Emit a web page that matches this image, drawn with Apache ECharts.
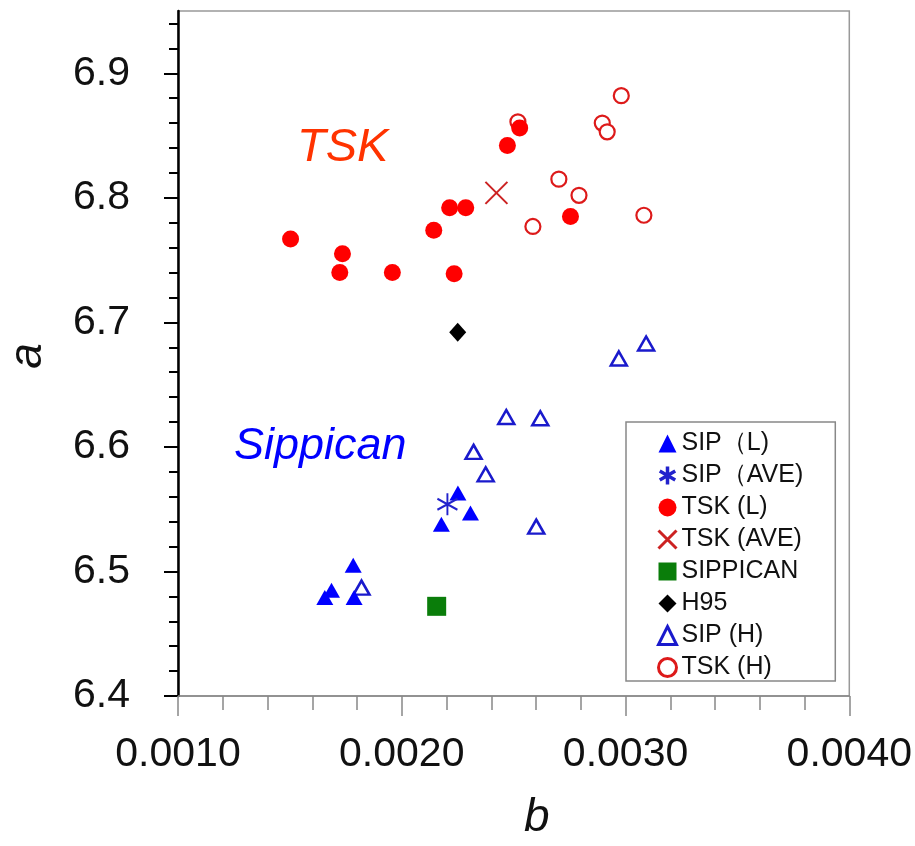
<!DOCTYPE html>
<html>
<head>
<meta charset="utf-8">
<script src="https://cdn.jsdelivr.net/npm/echarts@6/dist/echarts.min.js"></script>
<style>html,body{margin:0;padding:0;background:#fff;}#c{width:915px;height:846px;}</style>
</head>
<body>
<div id="c"></div>
<script>
// ---- data: [b, a] ----
const sipL = [[0.002251,6.563],[0.002307,6.547],[0.002177,6.538],[0.001783,6.505],[0.001686,6.485],[0.001656,6.479],[0.001787,6.479]];
const sipAve = [[0.002204,6.554]];
const tskL = [[0.001503,6.767],[0.001735,6.755],[0.001723,6.740],[0.001958,6.740],[0.002234,6.739],[0.002143,6.774],[0.002214,6.792],[0.002286,6.792],[0.002472,6.842],[0.002527,6.856],[0.002754,6.785]];
const tskAve = [[0.002423,6.804]];
const sippican = [[0.002156,6.472]];
const h95 = [[0.00225,6.692]];
const sipH = [[0.003092,6.683],[0.00297,6.671],[0.002467,6.624],[0.002619,6.623],[0.002375,6.578],[0.002601,6.536],[0.002321,6.596],[0.00182,6.487]];
const tskH = [[0.002519,6.861],[0.002981,6.882],[0.002896,6.860],[0.002918,6.853],[0.002702,6.815],[0.002792,6.802],[0.002586,6.777],[0.003082,6.786]];
const names = ['SIP（L)','SIP（AVE)','TSK (L)','TSK (AVE)','SIPPICAN','H95','SIP (H)','TSK (H)'];
const yTicks = [6.4,6.5,6.6,6.7,6.8,6.9];

const FONT = 'Liberation Sans, Arial, sans-serif';
const crossPath = 'path://M0,0L10,10M10,0L0,10';
const starPath = 'path://M5,0L5,10M0.7,2.5L9.3,7.5M0.7,7.5L9.3,2.5';

const styles = {
  'SIP（L)': {symbol:'triangle', symbolSize:[17,15], itemStyle:{color:'#0000ff', opacity:1}},
  'SIP（AVE)': {symbol:starPath, symbolSize:[20,22], itemStyle:{color:'rgba(0,0,0,0)', borderColor:'#2222cc', borderWidth:2, opacity:1}},
  'TSK (L)': {symbol:'circle', symbolSize:17, itemStyle:{color:'#ff0000', opacity:1}},
  'TSK (AVE)': {symbol:crossPath, symbolSize:22, itemStyle:{color:'rgba(0,0,0,0)', borderColor:'#cc2222', borderWidth:2, opacity:1}},
  'SIPPICAN': {symbol:'rect', symbolSize:19, itemStyle:{color:'#0a7d0a', opacity:1}},
  'H95': {symbol:'diamond', symbolSize:[17,19], itemStyle:{color:'#000000', opacity:1}},
  'SIP (H)': {symbol:'triangle', symbolSize:[16,14], itemStyle:{color:'#ffffff', borderColor:'#1a1acc', borderWidth:2.5, opacity:1}},
  'TSK (H)': {symbol:'circle', symbolSize:15, itemStyle:{color:'#ffffff', borderColor:'#dd1a1a', borderWidth:2.2, opacity:1}}
};
const legendWidths = {'SIP（AVE)': 3.5, 'TSK (AVE)': 3, 'SIP (H)': 3, 'TSK (H)': 3};
const dataMap = {
  'SIP（L)': sipL, 'SIP（AVE)': sipAve, 'TSK (L)': tskL, 'TSK (AVE)': tskAve,
  'SIPPICAN': sippican, 'H95': h95, 'SIP (H)': sipH, 'TSK (H)': tskH
};
const drawOrder = ['SIP (H)','TSK (H)','SIP（L)','TSK (L)','SIPPICAN','H95','SIP（AVE)','TSK (AVE)'];

const series = drawOrder.map(n => ({
  name: n, type: 'scatter', data: dataMap[n],
  symbol: styles[n].symbol, symbolSize: styles[n].symbolSize,
  itemStyle: styles[n].itemStyle, emphasis: {disabled: true}, z: 3
}));

const legendData = names.map(n => {
  const s = styles[n];
  const st = Object.assign({}, s.itemStyle);
  if (legendWidths[n]) st.borderWidth = legendWidths[n];
  return {name: n, icon: s.symbol, itemStyle: st};
});

const chart = echarts.init(document.getElementById('c'));
chart.setOption({
  animation: false,
  backgroundColor: '#fff',
  grid: {left: 178, right: 65, top: 11, bottom: 150, show: true, borderColor: '#999', borderWidth: 1.5, backgroundColor: '#fff'},
  xAxis: {
    type: 'value', min: 0.001, max: 0.004, interval: 0.001,
    axisLine: {show: true, onZero: false, lineStyle: {color: '#888', width: 1.5}},
    axisTick: {show: true, length: 20, lineStyle: {color: '#888', width: 1.5}},
    minorTick: {show: true, splitNumber: 5, length: 14, lineStyle: {color: '#888', width: 1.5}},
    splitLine: {show: false},
    axisLabel: {margin: 38, fontSize: 41, color: '#111', fontFamily: FONT, formatter: v => v.toFixed(4)}
  },
  yAxis: {
    type: 'value', min: 6.4, max: 6.95, interval: 0.1,
    axisLine: {show: true, onZero: false, lineStyle: {color: '#000', width: 2.5}},
    axisTick: {show: true, length: 14, customValues: yTicks, lineStyle: {color: '#000', width: 2}},
    minorTick: {show: true, splitNumber: 5, length: 9, lineStyle: {color: '#000', width: 2}},
    splitLine: {show: false},
    axisLabel: {margin: 48, fontSize: 41, color: '#111', fontFamily: FONT, customValues: yTicks, formatter: v => v.toFixed(1)}
  },
  legend: {
    orient: 'vertical', left: 626, top: 422,
    itemWidth: 18, itemHeight: 18, itemGap: 7, itemTextGap: 7,
    padding: [9, 32, 1, 31],
    borderColor: '#888', borderWidth: 1.5, backgroundColor: '#fff',
    textStyle: {fontSize: 25, color: '#111', fontFamily: FONT},
    data: legendData, selectedMode: false
  },
  graphic: [
    {type: 'text', left: 297, top: 124, style: {text: 'TSK', font: 'italic 47px ' + FONT, fill: '#ff3300'}},
    {type: 'text', left: 234, top: 424, style: {text: 'Sippican', font: 'italic 45px ' + FONT, fill: '#0000ff'}},
    {type: 'text', left: 524, top: 795, style: {text: 'b', font: 'italic 46px ' + FONT, fill: '#111'}},
    {type: 'text', x: 28, y: 356, rotation: Math.PI / 2, style: {text: 'a', font: 'italic 46px ' + FONT, fill: '#111', align: 'center', verticalAlign: 'middle'}}
  ],
  series: series
});
</script>
</body>
</html>
